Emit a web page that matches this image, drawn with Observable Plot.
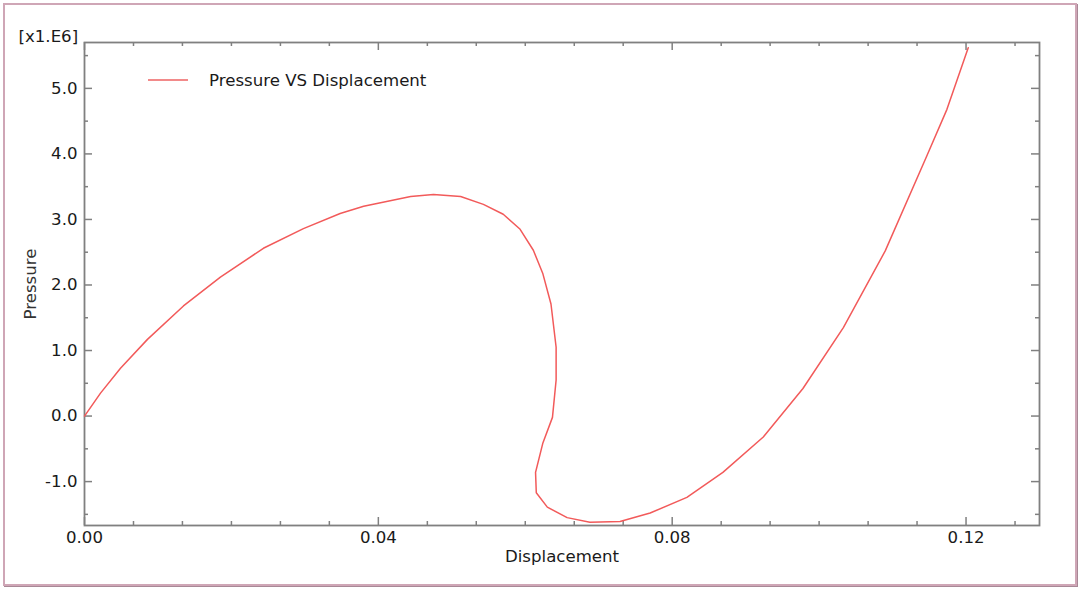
<!DOCTYPE html>
<html><head><meta charset="utf-8">
<script src="https://cdn.jsdelivr.net/npm/d3@7"></script>
<script src="https://cdn.jsdelivr.net/npm/@observablehq/plot@0.6"></script>
<style>
html,body{margin:0;padding:0;background:#fff;}
#wrap{position:relative;width:1080px;height:589px;overflow:hidden;font-family:"DejaVu Sans",sans-serif;}
#border{position:absolute;left:3px;top:3px;width:1070px;height:579px;border:2px solid #cfa6b6;box-shadow:1px 1px 0 #a88896;}
#chart{position:absolute;left:0;top:0;}
#legend{position:absolute;left:148px;top:70px;font-size:16.6px;color:#1a1a1a;display:flex;align-items:center;height:20px;}
#legend .sw{display:inline-block;width:40px;height:2px;background:#f28a8a;margin-right:21px;}
</style></head>
<body>
<div id="wrap"><div id="border"></div><div id="chart"></div>
<div id="legend"><span class="sw"></span><span>Pressure VS Displacement</span></div></div>
<script>
// Data (pressure in units of 1e6)
const displacement = [0, 0.00218, 0.0049, 0.00857, 0.01347, 0.0185, 0.02435, 0.0298, 0.0348, 0.038, 0.0444, 0.0475, 0.0512, 0.0543, 0.0570, 0.0593, 0.0611, 0.0624, 0.0635, 0.0642, 0.0642, 0.0637, 0.0624, 0.0614, 0.0615, 0.0630, 0.0657, 0.0688, 0.0729, 0.0770, 0.0820, 0.0869, 0.0924, 0.0978, 0.1033, 0.1090, 0.1147, 0.1174, 0.1203];
const pressure = [0, 0.35, 0.73, 1.17, 1.68, 2.12, 2.56, 2.86, 3.09, 3.20, 3.35, 3.38, 3.35, 3.23, 3.08, 2.85, 2.53, 2.17, 1.71, 1.05, 0.55, -0.02, -0.41, -0.86, -1.17, -1.39, -1.55, -1.62, -1.61, -1.48, -1.24, -0.86, -0.32, 0.42, 1.35, 2.52, 3.98, 4.68, 5.62];
const xTickLabels = [0, 0.04, 0.08, 0.12];
const yTickLabels = [-1, 0, 1, 2, 3, 4, 5];
const xMinorTicks = [0.00667, 0.01333, 0.02, 0.02667, 0.03333, 0.04667, 0.05333, 0.06, 0.06667, 0.07333, 0.08667, 0.09333, 0.1, 0.10667, 0.11333, 0.12667];
const yMinorTicks = [-1.5, -0.5, 0.5, 1.5, 2.5, 3.5, 4.5, 5.5];

const data = displacement.map((d, i) => ({x: d, y: pressure[i]}));

const W = 1080, H = 589, mL = 84, mR = 41, mT = 42, mB = 64;
const innerW = W - mL - mR, innerH = H - mT - mB;
const axisColor = "#808080";
const fs = 16.6;

const chart = Plot.plot({
  width: W, height: H,
  marginLeft: mL, marginRight: mR, marginTop: mT, marginBottom: mB,
  style: {fontFamily: '"DejaVu Sans", sans-serif', fontSize: fs + "px", color: "#1a1a1a", background: "transparent", overflow: "visible"},
  x: {domain: [0, 0.13]},
  y: {domain: [-1.67, 5.70]},
  marks: [
    Plot.axisX({ticks: xTickLabels, tickSize: 0, tickPadding: 6, tickFormat: d => d.toFixed(2), fontSize: fs, label: null}),
    Plot.axisY({ticks: yTickLabels, tickSize: 0, tickPadding: 7, tickFormat: d => d.toFixed(1), fontSize: fs, label: null}),
    // inward ticks: bottom & top
    Plot.tickX(xTickLabels, {x: d => d, insetTop: innerH - 8, stroke: axisColor, strokeWidth: 1.5}),
    Plot.tickX(xTickLabels, {x: d => d, insetBottom: innerH - 8, stroke: axisColor, strokeWidth: 1.5}),
    Plot.tickX(xMinorTicks, {x: d => d, insetTop: innerH - 4, stroke: axisColor, strokeWidth: 1.5}),
    Plot.tickX(xMinorTicks, {x: d => d, insetBottom: innerH - 4, stroke: axisColor, strokeWidth: 1.5}),
    // inward ticks: left & right
    Plot.tickY(yTickLabels, {y: d => d, insetRight: innerW - 8, stroke: axisColor, strokeWidth: 1.5}),
    Plot.tickY(yTickLabels, {y: d => d, insetLeft: innerW - 8, stroke: axisColor, strokeWidth: 1.5}),
    Plot.tickY(yMinorTicks, {y: d => d, insetRight: innerW - 4, stroke: axisColor, strokeWidth: 1.5}),
    Plot.tickY(yMinorTicks, {y: d => d, insetLeft: innerW - 4, stroke: axisColor, strokeWidth: 1.5}),
    Plot.frame({stroke: axisColor, strokeWidth: 1.8}),
    Plot.line(data, {x: "x", y: "y", stroke: "#f25a5a", strokeWidth: 1.5, curve: "linear"}),
    Plot.text(["[x1.E6]"], {frameAnchor: "top-left", dx: -66, dy: -12, textAnchor: "start", fontSize: fs, fill: "#1a1a1a"}),
    Plot.text(["Pressure"], {frameAnchor: "left", dx: -54, rotate: -90, textAnchor: "middle", fontSize: fs, fill: "#333"}),
    Plot.text(["Displacement"], {frameAnchor: "bottom", dy: 36, fontSize: fs, fill: "#1a1a1a"})
  ]
});
document.getElementById("chart").appendChild(chart);
</script>
</body></html>
